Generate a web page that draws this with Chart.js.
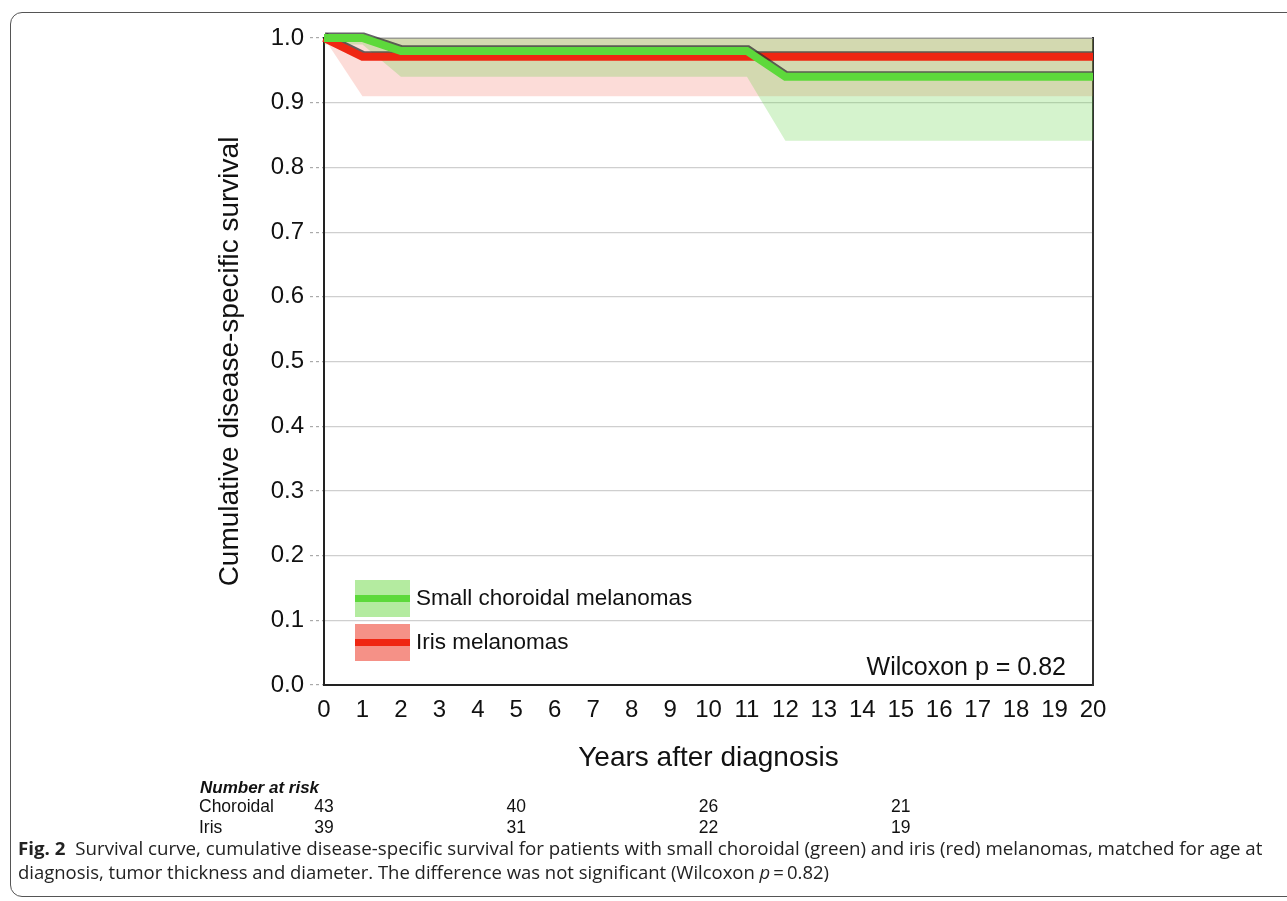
<!DOCTYPE html>
<html>
<head>
<meta charset="utf-8">
<script src="https://cdn.jsdelivr.net/npm/chart.js@4"></script>
<style>
  html, body { margin: 0; padding: 0; background: #fff; }
  body { width: 1287px; height: 901px; position: relative; overflow: hidden; }
  #frame {
    position: absolute; left: 10px; top: 12px; width: 1320px; height: 885px;
    border: 1.5px solid #555; border-radius: 12px; box-sizing: border-box;
  }
  #chart { position: absolute; left: 0; top: 0; }
  .cap {
    position: absolute; left: 18px; white-space: nowrap;
    font-family: "Open Sans", "Noto Sans", sans-serif; font-size: 18.5px; color: #222;
    transform-origin: 0 50%;
  }
  .cap b { font-weight: 700; }
</style>
</head>
<body>
<div id="frame"></div>
<canvas id="chart" width="1287" height="901"></canvas>
<div class="cap" id="cap1" style="top:835px"><b>Fig. 2</b>&nbsp; Survival curve, cumulative disease-specific survival for patients with small choroidal (green) and iris (red) melanomas, matched for age at</div>
<div class="cap" id="cap2" style="top:859px">diagnosis, tumor thickness and diameter. The difference was not significant (Wilcoxon <i>p</i>&#8201;=&#8201;0.82)</div>

<script>
// ===== DATA =====
const yearTicks = [0, 1, 2, 3, 4, 5, 6, 7, 8, 9, 10, 11, 12, 13, 14, 15, 16, 17, 18, 19, 20];

// small choroidal melanomas
const choroidalYears = [0, 1, 2, 11, 12, 20];
const choroidalSurv  = [1.0, 1.0, 0.98, 0.98, 0.94, 0.94];
const choroidalUpper = [1.0, 1.0, 1.0, 1.0, 1.0, 1.0];
const choroidalLower = [0.99, 0.99, 0.94, 0.94, 0.841, 0.841];

// iris melanomas
const irisYears = [0, 1, 20];
const irisSurv  = [1.0, 0.971, 0.971];
const irisUpper = [1.0, 1.0, 1.0];
const irisLower = [1.0, 0.91, 0.91];

// number at risk table
const riskYears     = [0, 5, 10, 15];
const riskChoroidal = [43, 40, 26, 21];
const riskIris      = [39, 31, 22, 19];

const seriesNames = ["Small choroidal melanomas", "Iris melanomas"];
const pValueText = "Wilcoxon p = 0.82";

// ===== COLOURS =====
const GREEN = "#5dd93b";
const RED = "#ef2612";
const GREEN_BAND = "rgba(100, 210, 70, 0.27)";
const RED_BAND = "rgba(240, 80, 60, 0.2)";
const FONT = "'Liberation Sans', Arial, sans-serif";

const pts = (xs, ys) => xs.map((x, i) => ({ x: x, y: ys[i] }));

// thin dark edge above the two survival curves
const curveShadow = {
  id: "curveShadow",
  beforeDatasetDraw(chart, args) {
    if (args.index > 1) return;
    const ctx = chart.ctx;
    ctx.save();
    ctx.shadowColor = "rgba(50, 50, 50, 0.75)";
    ctx.shadowBlur = 0;
    ctx.shadowOffsetX = 1;
    ctx.shadowOffsetY = -1.6;
  },
  afterDatasetDraw(chart, args) {
    if (args.index > 1) return;
    chart.ctx.restore();
  },
};

// legend, p value and number-at-risk table
const extras = {
  id: "extras",
  afterDraw(chart) {
    const ctx = chart.ctx;
    const xs = chart.scales.x;
    ctx.save();

    // legend swatches
    const items = [
      { fill: "rgb(180, 235, 160)", line: GREEN, top: 580 },
      { fill: "rgb(245, 145, 135)", line: RED, top: 624 },
    ];
    items.forEach((it, i) => {
      ctx.fillStyle = it.fill;
      ctx.fillRect(355, it.top, 55, 37);
      ctx.fillStyle = it.line;
      ctx.fillRect(355, it.top + 15, 55, 7);
      ctx.fillStyle = "#111";
      ctx.font = "22.5px " + FONT;
      ctx.textBaseline = "middle";
      ctx.textAlign = "left";
      ctx.fillText(seriesNames[i], 416, it.top + 19);
    });

    // p value
    ctx.font = "25px " + FONT;
    ctx.textAlign = "right";
    ctx.textBaseline = "alphabetic";
    ctx.fillText(pValueText, 1066, 675);

    // number at risk
    ctx.textAlign = "left";
    ctx.font = "italic bold 17px " + FONT;
    ctx.fillText("Number at risk", 200, 793);
    ctx.font = "17.5px " + FONT;
    ctx.fillText("Choroidal", 199, 812);
    ctx.fillText("Iris", 199, 833);
    ctx.textAlign = "center";
    riskYears.forEach((yr, i) => {
      const px = xs.getPixelForValue(yr);
      ctx.fillText(String(riskChoroidal[i]), px, 812);
      ctx.fillText(String(riskIris[i]), px, 833);
    });
    ctx.restore();
  },
};

window.addEventListener("load", () => {
  const ctx = document.getElementById("chart").getContext("2d");
  new Chart(ctx, {
    type: "line",
    data: {
      datasets: [
        {
          label: seriesNames[0],
          data: pts(choroidalYears, choroidalSurv),
          borderColor: GREEN,
          borderWidth: 8,
          pointRadius: 0,
          fill: false,
          clip: false,
          borderJoinStyle: "miter",
        },
        {
          label: seriesNames[1],
          data: pts(irisYears, irisSurv),
          borderColor: RED,
          borderWidth: 8,
          pointRadius: 0,
          fill: false,
          clip: false,
          borderJoinStyle: "miter",
        },
        {
          label: "choroidal upper",
          data: pts(choroidalYears, choroidalUpper),
          borderColor: "#8a8a8a",
          borderWidth: 1.5,
          pointRadius: 0,
          fill: false,
        },
        {
          label: "choroidal lower",
          data: pts(choroidalYears, choroidalLower),
          borderWidth: 0,
          pointRadius: 0,
          backgroundColor: GREEN_BAND,
          fill: "-1",
        },
        {
          label: "iris upper",
          data: pts(irisYears, irisUpper),
          borderWidth: 0,
          pointRadius: 0,
          fill: false,
        },
        {
          label: "iris lower",
          data: pts(irisYears, irisLower),
          borderWidth: 0,
          pointRadius: 0,
          backgroundColor: RED_BAND,
          fill: "-1",
        },
      ],
    },
    options: {
      responsive: false,
      animation: false,
      layout: { padding: { left: 200, right: 194, top: 38, bottom: 116 } },
      plugins: {
        legend: { display: false },
        tooltip: { enabled: false },
      },
      scales: {
        x: {
          type: "linear",
          min: 0,
          max: 20,
          afterBuildTicks: (s) => { s.ticks = yearTicks.map((v) => ({ value: v })); },
          afterFit: (s) => { s.height = 100; },
          ticks: {
            color: "#111",
            padding: 11,
            font: { family: FONT, size: 24 },
          },
          grid: { display: false, drawTicks: false },
          border: { color: "#222", width: 2 },
          title: {
            display: true,
            text: "Years after diagnosis",
            color: "#111",
            padding: { top: 0, bottom: 10 },
            font: { family: FONT, size: 28 },
          },
        },
        y: {
          min: 0,
          max: 1,
          afterFit: (s) => { s.width = 124; },
          ticks: {
            stepSize: 0.1,
            color: "#111",
            padding: 6,
            callback: (v) => v.toFixed(1),
            font: { family: FONT, size: 24 },
          },
          grid: {
            color: "#cfcfcf",
            lineWidth: 1.2,
            tickLength: 14,
            tickColor: "#aaa",
            tickBorderDash: [3, 3],
          },
          border: { color: "#222", width: 2 },
          title: {
            display: true,
            text: "Cumulative disease-specific survival",
            color: "#111",
            padding: { top: 13, bottom: 0 },
            font: { family: FONT, size: 28 },
          },
        },
        y2: {
          position: "right",
          min: 0,
          max: 1,
          ticks: { display: false },
          grid: { drawOnChartArea: false, drawTicks: false },
          border: { color: "#333", width: 2 },
        },
      },
    },
    plugins: [curveShadow, extras],
  });

  // squeeze the caption lines to the width of the condensed original
  [["cap1", 1244], ["cap2", 811]].forEach(([id, w]) => {
    const el = document.getElementById(id);
    el.style.transform = `scaleX(${w / el.offsetWidth})`;
  });
});
</script>
</body>
</html>
